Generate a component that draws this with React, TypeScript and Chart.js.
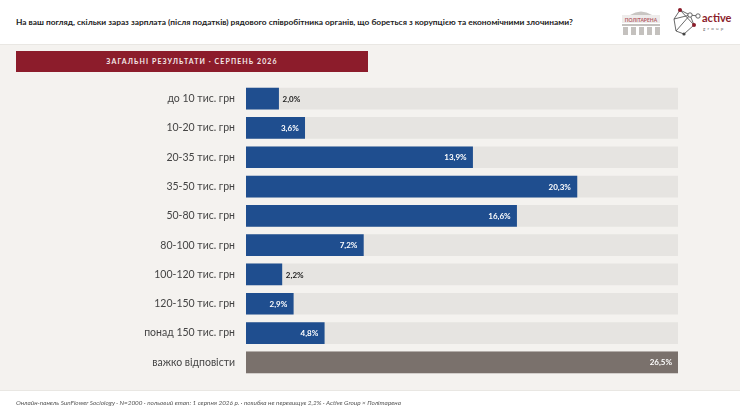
import React, { useEffect, useRef } from "react";
import { Chart, registerables } from "chart.js";

Chart.register(...registerables);

const categories = [
  "до 10 тис. грн",
  "10-20 тис. грн",
  "20-35 тис. грн",
  "35-50 тис. грн",
  "50-80 тис. грн",
  "80-100 тис. грн",
  "100-120 тис. грн",
  "120-150 тис. грн",
  "понад 150 тис. грн",
  "важко відповісти",
];
const values = [2.0, 3.6, 13.9, 20.3, 16.6, 7.2, 2.2, 2.9, 4.8, 26.5];
const scaleMax = 26.5;
const insideThreshold = 2.5;

const TITLE =
  "На ваш погляд, скільки зараз зарплата (після податків) рядового співробітника органів, що бореться з корупцією та економічними злочинами?";
const BAND = "ЗАГАЛЬНІ РЕЗУЛЬТАТИ · СЕРПЕНЬ 2026";
const FOOTER =
  "Онлайн-панель SunFlower Sociology · N=2000 · польовий етап: 1 серпня 2026 р. · похибка не перевищує 2,2% · Active Group × Політарена";

const BLUE = "#1f4e8f";
const GREY_BAR = "#7a716c";
const TRACK = "#e6e4e1";
const FONT = "Lato, 'Noto Sans', sans-serif";

const fmt = (v: number) => v.toFixed(1).replace(".", ",") + "%";

const labelPlugin = {
  id: "valueLabels",
  afterDatasetsDraw(chart: any) {
    const ctx = chart.ctx;
    const meta = chart.getDatasetMeta(0);
    ctx.save();
    ctx.font = `700 8px ${FONT}`;
    ctx.textBaseline = "middle";
    meta.data.forEach((el: any, i: number) => {
      const v = values[i];
      const txt = fmt(v);
      if (v >= insideThreshold) {
        ctx.fillStyle = "#ffffff";
        ctx.textAlign = "right";
        ctx.fillText(txt, el.x - 6, el.y + 0.5);
      } else {
        ctx.fillStyle = "#222222";
        ctx.textAlign = "left";
        ctx.fillText(txt, el.x + 4, el.y + 0.5);
      }
    });
    ctx.restore();
  },
};

function ChartCanvas() {
  const ref = useRef<HTMLCanvasElement | null>(null);
  useEffect(() => {
    if (!ref.current) return;
    const chart = new Chart(ref.current, {
      type: "bar",
      data: {
        labels: categories,
        datasets: [
          {
            data: values,
            backgroundColor: (c: any) =>
              c.dataIndex === categories.length - 1 ? GREY_BAR : BLUE,
            barThickness: 21,
            grouped: false,
            order: 1,
          } as any,
          {
            data: categories.map(() => scaleMax),
            backgroundColor: TRACK,
            barThickness: 21,
            grouped: false,
            order: 2,
          } as any,
        ],
      },
      plugins: [labelPlugin],
      options: {
        indexAxis: "y",
        animation: false,
        responsive: false,
        devicePixelRatio: 1,
        layout: { padding: { left: 0, right: 62, top: 84, bottom: 39 } },
        plugins: {
          legend: { display: false },
          tooltip: { enabled: false },
        },
        scales: {
          x: {
            display: false,
            min: 0,
            max: scaleMax,
          },
          y: {
            grid: { display: false, drawTicks: false },
            border: { display: false },
            ticks: {
              padding: 11,
              color: "#444444",
              font: { family: FONT, size: 10.5 },
            },
            afterFit: (scale: any) => {
              scale.width = 246;
            },
          },
        },
      } as any,
    });
    return () => chart.destroy();
  }, []);
  return (
    <canvas
      ref={ref}
      width={740}
      height={416}
      style={{ position: "absolute", left: 0, top: 0, width: 740, height: 416 }}
    />
  );
}

function PolitarenaLogo() {
  return (
    <svg width="42" height="26" viewBox="0 0 42 26" style={{ position: "absolute", left: 620, top: 9 }}>
      <path d="M10 6 Q21 -1 32 6 Z" fill="#c9c6c3" />
      <rect x="2" y="6" width="38" height="8" fill="#eeeceb" />
      <text x="21" y="12.5" textAnchor="middle" fontSize="5" fontFamily={FONT} fill="#b25a63" fontWeight="700">
        ПОЛІТАРЕНА
      </text>
      <rect x="2" y="15" width="38" height="2" fill="#c4c1be" />
      {[3, 11, 19, 27, 35].map((x) => (
        <rect key={x} x={x} y="18" width="5" height="8" fill="#c4c1be" />
      ))}
    </svg>
  );
}

function ActiveLogo() {
  return (
    <svg width="66" height="30" viewBox="0 0 66 30" style={{ position: "absolute", left: 670, top: 7 }}>
      <g stroke="#444" strokeWidth="0.8" fill="none">
        <polyline points="10,3 4,12 6,24 14,27 24,18 20,8 10,3" />
        <line x1="10" y1="3" x2="24" y2="18" />
        <line x1="4" y1="12" x2="20" y2="8" />
        <line x1="6" y1="24" x2="20" y2="8" />
        <line x1="20" y1="8" x2="28" y2="9" />
      </g>
      <circle cx="10" cy="3" r="2" fill="#8b1c2a" />
      <circle cx="24" cy="18" r="2" fill="#8b1c2a" />
      <circle cx="14" cy="27" r="1.6" fill="#444" />
      <circle cx="20" cy="8" r="2.2" fill="#fff" stroke="#444" strokeWidth="0.8" />
      <circle cx="28" cy="9" r="2.2" fill="#fff" stroke="#444" strokeWidth="0.8" />
      <text x="32" y="15" fontSize="11" fontFamily={FONT} fontWeight="700" fill="#8b1c2a">
        active
      </text>
      <text x="33" y="23" fontSize="4.5" fontFamily={FONT} fill="#666" letterSpacing="2.2">
        group
      </text>
    </svg>
  );
}

export default function App() {
  return (
    <div
      style={{
        position: "fixed",
        left: 0,
        top: 0,
        width: 740,
        height: 416,
        background: "#ffffff",
        fontFamily: FONT,
        overflow: "hidden",
      }}
    >
      <div
        style={{
          position: "absolute",
          left: 16,
          top: 16,
          fontSize: 8.35,
          fontWeight: 700,
          color: "#222",
          whiteSpace: "nowrap",
          lineHeight: "12px",
        }}
      >
        {TITLE}
      </div>
      <PolitarenaLogo />
      <ActiveLogo />
      <div
        style={{
          position: "absolute",
          left: 0,
          top: 44,
          width: 740,
          height: 345,
          background: "#f4f2ef",
          borderTop: "1px solid #e9e7e3",
          borderBottom: "1px solid #e9e7e3",
        }}
      />
      <div
        style={{
          position: "absolute",
          left: 16,
          top: 51,
          width: 352,
          height: 21,
          background: "#8c1c2b",
          color: "#f4e9ea",
          fontSize: 7,
          fontWeight: 700,
          letterSpacing: 1.1,
          lineHeight: "21px",
          textAlign: "center",
          whiteSpace: "nowrap",
        }}
      >
        {BAND}
      </div>
      <ChartCanvas />
      <div
        style={{
          position: "absolute",
          left: 16,
          top: 398,
          fontSize: 6.4,
          fontStyle: "italic",
          color: "#555",
          whiteSpace: "nowrap",
          lineHeight: "10px",
        }}
      >
        {FOOTER}
      </div>
    </div>
  );
}
